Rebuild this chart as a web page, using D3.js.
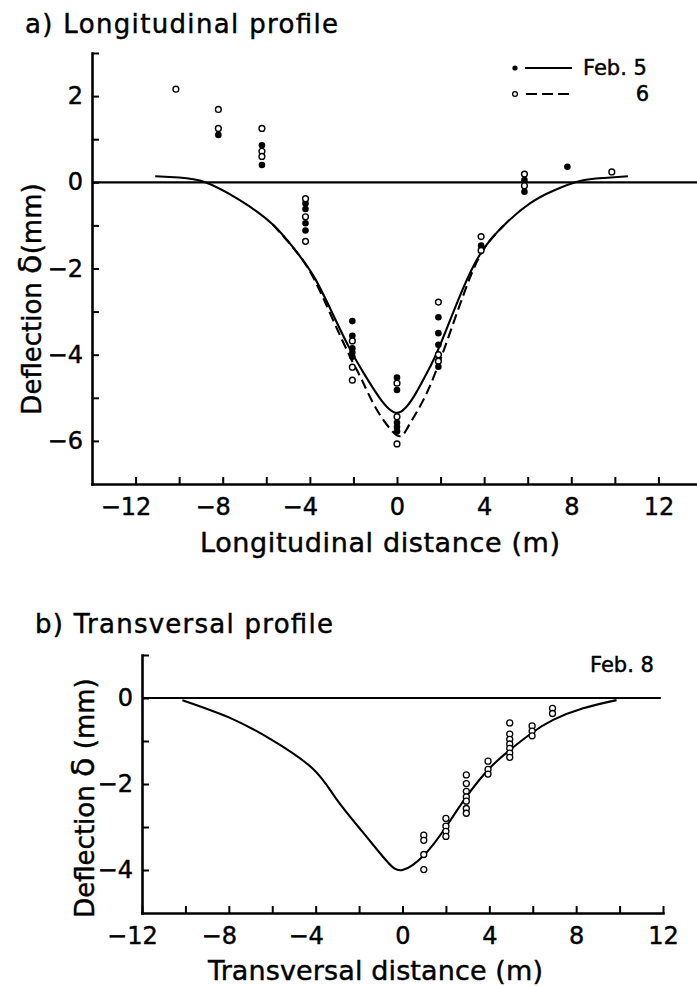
<!DOCTYPE html>
<html>
<head>
<meta charset="utf-8">
<script src="https://cdn.jsdelivr.net/npm/d3@7"></script>
<style>
  html, body { margin: 0; padding: 0; background: #fff; }
  svg { display: block; }
  text { font-family: "DejaVu Sans", "Liberation Sans", sans-serif; fill: #000; stroke: #000; stroke-width: 0.45px; }
</style>
</head>
<body>
<script>
// ---- a) Longitudinal profile: measured deflections [distance m, deflection mm] ----
const longFeb5Points = [
  [-8.2, 1.1],
  [-6.2, 0.86], [-6.2, 0.40],
  [-4.2, -0.49], [-4.2, -0.62], [-4.2, -0.95], [-4.2, -1.12],
  [-2.05, -3.22], [-2.05, -3.56], [-2.05, -3.85], [-2.05, -3.95], [-2.05, -4.05],
  [0, -4.53], [0, -4.82], [0, -5.58], [0, -5.68], [0, -5.78],
  [1.9, -3.13], [1.9, -3.5], [1.9, -3.77], [1.9, -4.28],
  [3.86, -1.47],
  [5.85, 0.05], [5.85, -0.22],
  [7.82, 0.36]
];
const longFeb6Points = [
  [-10.15, 2.16],
  [-8.2, 1.69], [-8.2, 1.25],
  [-6.2, 1.25], [-6.2, 0.72], [-6.2, 0.6],
  [-4.2, -0.38], [-4.2, -0.8], [-4.2, -1.37],
  [-2.05, -3.68], [-2.05, -4.29], [-2.05, -4.59],
  [0, -4.66], [0, -5.44], [0, -6.07],
  [1.9, -2.78], [1.9, -4.0], [1.9, -4.15],
  [3.86, -1.26], [3.86, -1.58],
  [5.85, 0.19], [5.85, -0.08],
  [9.86, 0.24]
];
// fitted deflection lines
const longFeb5Curve = [
  [-11.1, 0.14], [-10, 0.11], [-8.8, 0.0], [-7.2, -0.42], [-5.7, -0.98], [-4.6, -1.62],
  [-3.8, -2.2], [-3.0, -3.0], [-2.2, -3.83], [-1.5, -4.45], [-0.8, -5.0], [0, -5.35],
  [0.8, -4.95], [1.5, -4.3], [2.0, -3.75], [3.0, -2.5], [3.9, -1.6], [4.9, -1.0],
  [6.1, -0.49], [7.2, -0.19], [8.4, 0.03], [9.5, 0.1], [10.6, 0.14]
];
const longFeb6Curve = [
  [-5.7, -0.98], [-4.6, -1.62], [-3.8, -2.25], [-3.0, -3.12], [-2.2, -4.0], [-1.6, -4.6],
  [-0.9, -5.3], [0, -5.87], [0.5, -5.68], [1.2, -5.06], [2.0, -4.1], [3.0, -2.68],
  [3.9, -1.62], [4.9, -1.0]
];

// ---- b) Transversal profile (Feb. 8) ----
const transPoints = [
  [0.98, -3.19], [0.98, -3.31], [0.98, -3.64], [0.98, -3.99],
  [2.0, -2.8], [2.0, -2.98], [2.0, -3.1], [2.0, -3.22],
  [2.94, -1.79], [2.94, -1.99], [2.94, -2.17], [2.94, -2.3], [2.94, -2.4], [2.94, -2.57], [2.94, -2.68],
  [3.94, -1.47], [3.94, -1.66], [3.94, -1.77],
  [4.94, -0.58], [4.94, -0.84], [4.94, -0.96], [4.94, -1.07], [4.94, -1.17], [4.94, -1.28], [4.94, -1.38],
  [5.97, -0.65], [5.97, -0.77], [5.97, -0.88],
  [6.91, -0.24], [6.91, -0.36]
];
const transCurve = [
  [-10.14, -0.05], [-8, -0.45], [-6.06, -0.96], [-4.14, -1.64], [-3.06, -2.34],
  [-1.83, -3.12], [-0.75, -3.78], [0, -4.0], [1.02, -3.64], [2.0, -3.0], [2.94, -2.3],
  [4.0, -1.64], [4.94, -1.21], [5.94, -0.82], [6.94, -0.51], [8.32, -0.24], [9.86, -0.05]
];

// ---- axis ticks and labels ----
const longXTicks = d3.range(-12, 14, 2);
const longXLabels = [-12, -8, -4, 0, 4, 8, 12];
const longYTicks = d3.range(-6, 4, 1);
const longYLabels = [-6, -4, -2, 0, 2];
const transXTicks = d3.range(-10, 13, 2);
const transXLabels = [-12, -8, -4, 0, 4, 8, 12];
const transYTicks = d3.range(-4, 2, 1);
const transYLabels = [-4, -2, 0];
const legendA = ["Feb. 5", "6"];
const legendB = "Feb. 8";

const W = 697, H = 986;
const svg = d3.select("body").append("svg").attr("width", W).attr("height", H);
svg.append("rect").attr("width", W).attr("height", H).attr("fill", "#fff");

const fmt = d => (d < 0 ? "\u2212" + Math.abs(d) : String(d));

function drawAxes(g, x, y, xTicks, xLabels, yTicks, yLabels) {
  const xAxis = d3.axisBottom(x)
    .tickValues(xTicks.concat(xLabels.filter(v => !xTicks.includes(v))))
    .tickSize(-7).tickSizeOuter(0).tickPadding(14)
    .tickFormat(d => (xLabels.includes(d) ? fmt(d) : ""));
  const yAxis = d3.axisLeft(y)
    .tickValues(yTicks)
    .tickSize(-7).tickSizeOuter(0).tickPadding(9)
    .tickFormat(d => (yLabels.includes(d) ? fmt(d) : ""));

  const gx = g.append("g").attr("transform", `translate(0,${y.range()[0]})`).call(xAxis);
  const gy = g.append("g").attr("transform", `translate(${x.range()[0]},0)`).call(yAxis);
  [gx, gy].forEach(a => {
    a.attr("font-family", null).attr("font-size", null);
    a.select(".domain").attr("stroke", "#000").attr("stroke-width", 2.6).attr("stroke-linecap", "square");
    a.selectAll(".tick line").attr("stroke", "#000").attr("stroke-width", 2);
    a.selectAll(".tick text").attr("font-size", 24).attr("fill", "#000");
  });
  // digits centred on the tick, minus sign hanging to the left
  gx.selectAll(".tick text").attr("dx", d => (d < 0 ? "-0.42em" : 0));
  return { gx, gy };
}

const line = (x, y) => d3.line().x(d => x(d[0])).y(d => y(d[1])).curve(d3.curveNatural);

// ================= a) Longitudinal profile =================
const xA = d3.scaleLinear().domain([-14, 14]).range([92, 702]);
const yA = d3.scaleLinear().domain([-7, 3]).range([484, 53]);
const gA = svg.append("g");

svg.append("text").attr("x", 25).attr("y", 33).attr("font-size", 26)
  .attr("textLength", 313).attr("lengthAdjust", "spacing").text("a) Longitudinal profile");

drawAxes(gA, xA, yA, longXTicks, longXLabels, longYTicks, longYLabels);

gA.append("line").attr("x1", xA(-14)).attr("x2", W).attr("y1", yA(0)).attr("y2", yA(0))
  .attr("stroke", "#000").attr("stroke-width", 2.2);

gA.append("path").datum(longFeb5Curve).attr("d", line(xA, yA))
  .attr("fill", "none").attr("stroke", "#000").attr("stroke-width", 2.1);
gA.append("path").datum(longFeb6Curve).attr("d", line(xA, yA))
  .attr("fill", "none").attr("stroke", "#000").attr("stroke-width", 2.1).attr("stroke-dasharray", "10,5");

gA.selectAll("circle.f5").data(longFeb5Points).join("circle").attr("class", "f5")
  .attr("cx", d => xA(d[0])).attr("cy", d => yA(d[1])).attr("r", 3.3).attr("fill", "#000");
gA.selectAll("circle.f6").data(longFeb6Points).join("circle").attr("class", "f6")
  .attr("cx", d => xA(d[0])).attr("cy", d => yA(d[1])).attr("r", 2.9)
  .attr("fill", "#fff").attr("stroke", "#000").attr("stroke-width", 1.4);

// legend
const lg = gA.append("g");
lg.append("circle").attr("cx", 515).attr("cy", 68).attr("r", 2.6).attr("fill", "#000");
lg.append("line").attr("x1", 525).attr("x2", 572).attr("y1", 68).attr("y2", 68).attr("stroke", "#000").attr("stroke-width", 2);
lg.append("text").attr("x", 583).attr("y", 75).attr("font-size", 21).text(legendA[0]);
lg.append("circle").attr("cx", 515).attr("cy", 94).attr("r", 2.4).attr("fill", "#fff").attr("stroke", "#000").attr("stroke-width", 1.3);
lg.append("line").attr("x1", 526).attr("x2", 572).attr("y1", 94).attr("y2", 94).attr("stroke", "#000").attr("stroke-width", 2).attr("stroke-dasharray", "11,5");
lg.append("text").attr("x", 649).attr("y", 101).attr("font-size", 21).attr("text-anchor", "end").text(legendA[1]);

// axis titles
svg.append("text").attr("x", 200).attr("y", 552).attr("font-size", 27)
  .attr("textLength", 360).attr("lengthAdjust", "spacing").text("Longitudinal distance (m)");
const ylabA = svg.append("text").attr("transform", "translate(41,299) rotate(-90)")
  .attr("text-anchor", "middle").attr("font-size", 26);
ylabA.append("tspan").text("Deflection ");
ylabA.append("tspan").attr("font-size", 32).text("δ");
ylabA.append("tspan").text("(mm)");

// ================= b) Transversal profile =================
const xB = d3.scaleLinear().domain([-12, 12]).range([142, 663]);
const yB = d3.scaleLinear().domain([-5, 1]).range([913, 655]);
const gB = svg.append("g");

svg.append("text").attr("x", 35).attr("y", 633).attr("font-size", 26)
  .attr("textLength", 298).attr("lengthAdjust", "spacing").text("b) Transversal profile");

drawAxes(gB, xB, yB, transXTicks, transXLabels, transYTicks, transYLabels);

gB.append("line").attr("x1", xB(-12)).attr("x2", xB(11.9)).attr("y1", yB(0)).attr("y2", yB(0))
  .attr("stroke", "#000").attr("stroke-width", 2.2);

gB.append("path").datum(transCurve).attr("d", line(xB, yB))
  .attr("fill", "none").attr("stroke", "#000").attr("stroke-width", 2.1);

gB.selectAll("circle.t8").data(transPoints).join("circle").attr("class", "t8")
  .attr("cx", d => xB(d[0])).attr("cy", d => yB(d[1])).attr("r", 3)
  .attr("fill", "#fff").attr("stroke", "#000").attr("stroke-width", 1.3);

gB.append("text").attr("x", 590).attr("y", 672).attr("font-size", 21).text(legendB);

svg.append("text").attr("x", 208).attr("y", 980).attr("font-size", 27)
  .attr("textLength", 335).attr("lengthAdjust", "spacing").text("Transversal distance (m)");
const ylabB = svg.append("text").attr("transform", "translate(94,798) rotate(-90)")
  .attr("text-anchor", "middle").attr("font-size", 26);
ylabB.append("tspan").text("Deflection ");
ylabB.append("tspan").attr("font-size", 32).text("δ");
ylabB.append("tspan").text(" (mm)");
</script>
</body>
</html>
